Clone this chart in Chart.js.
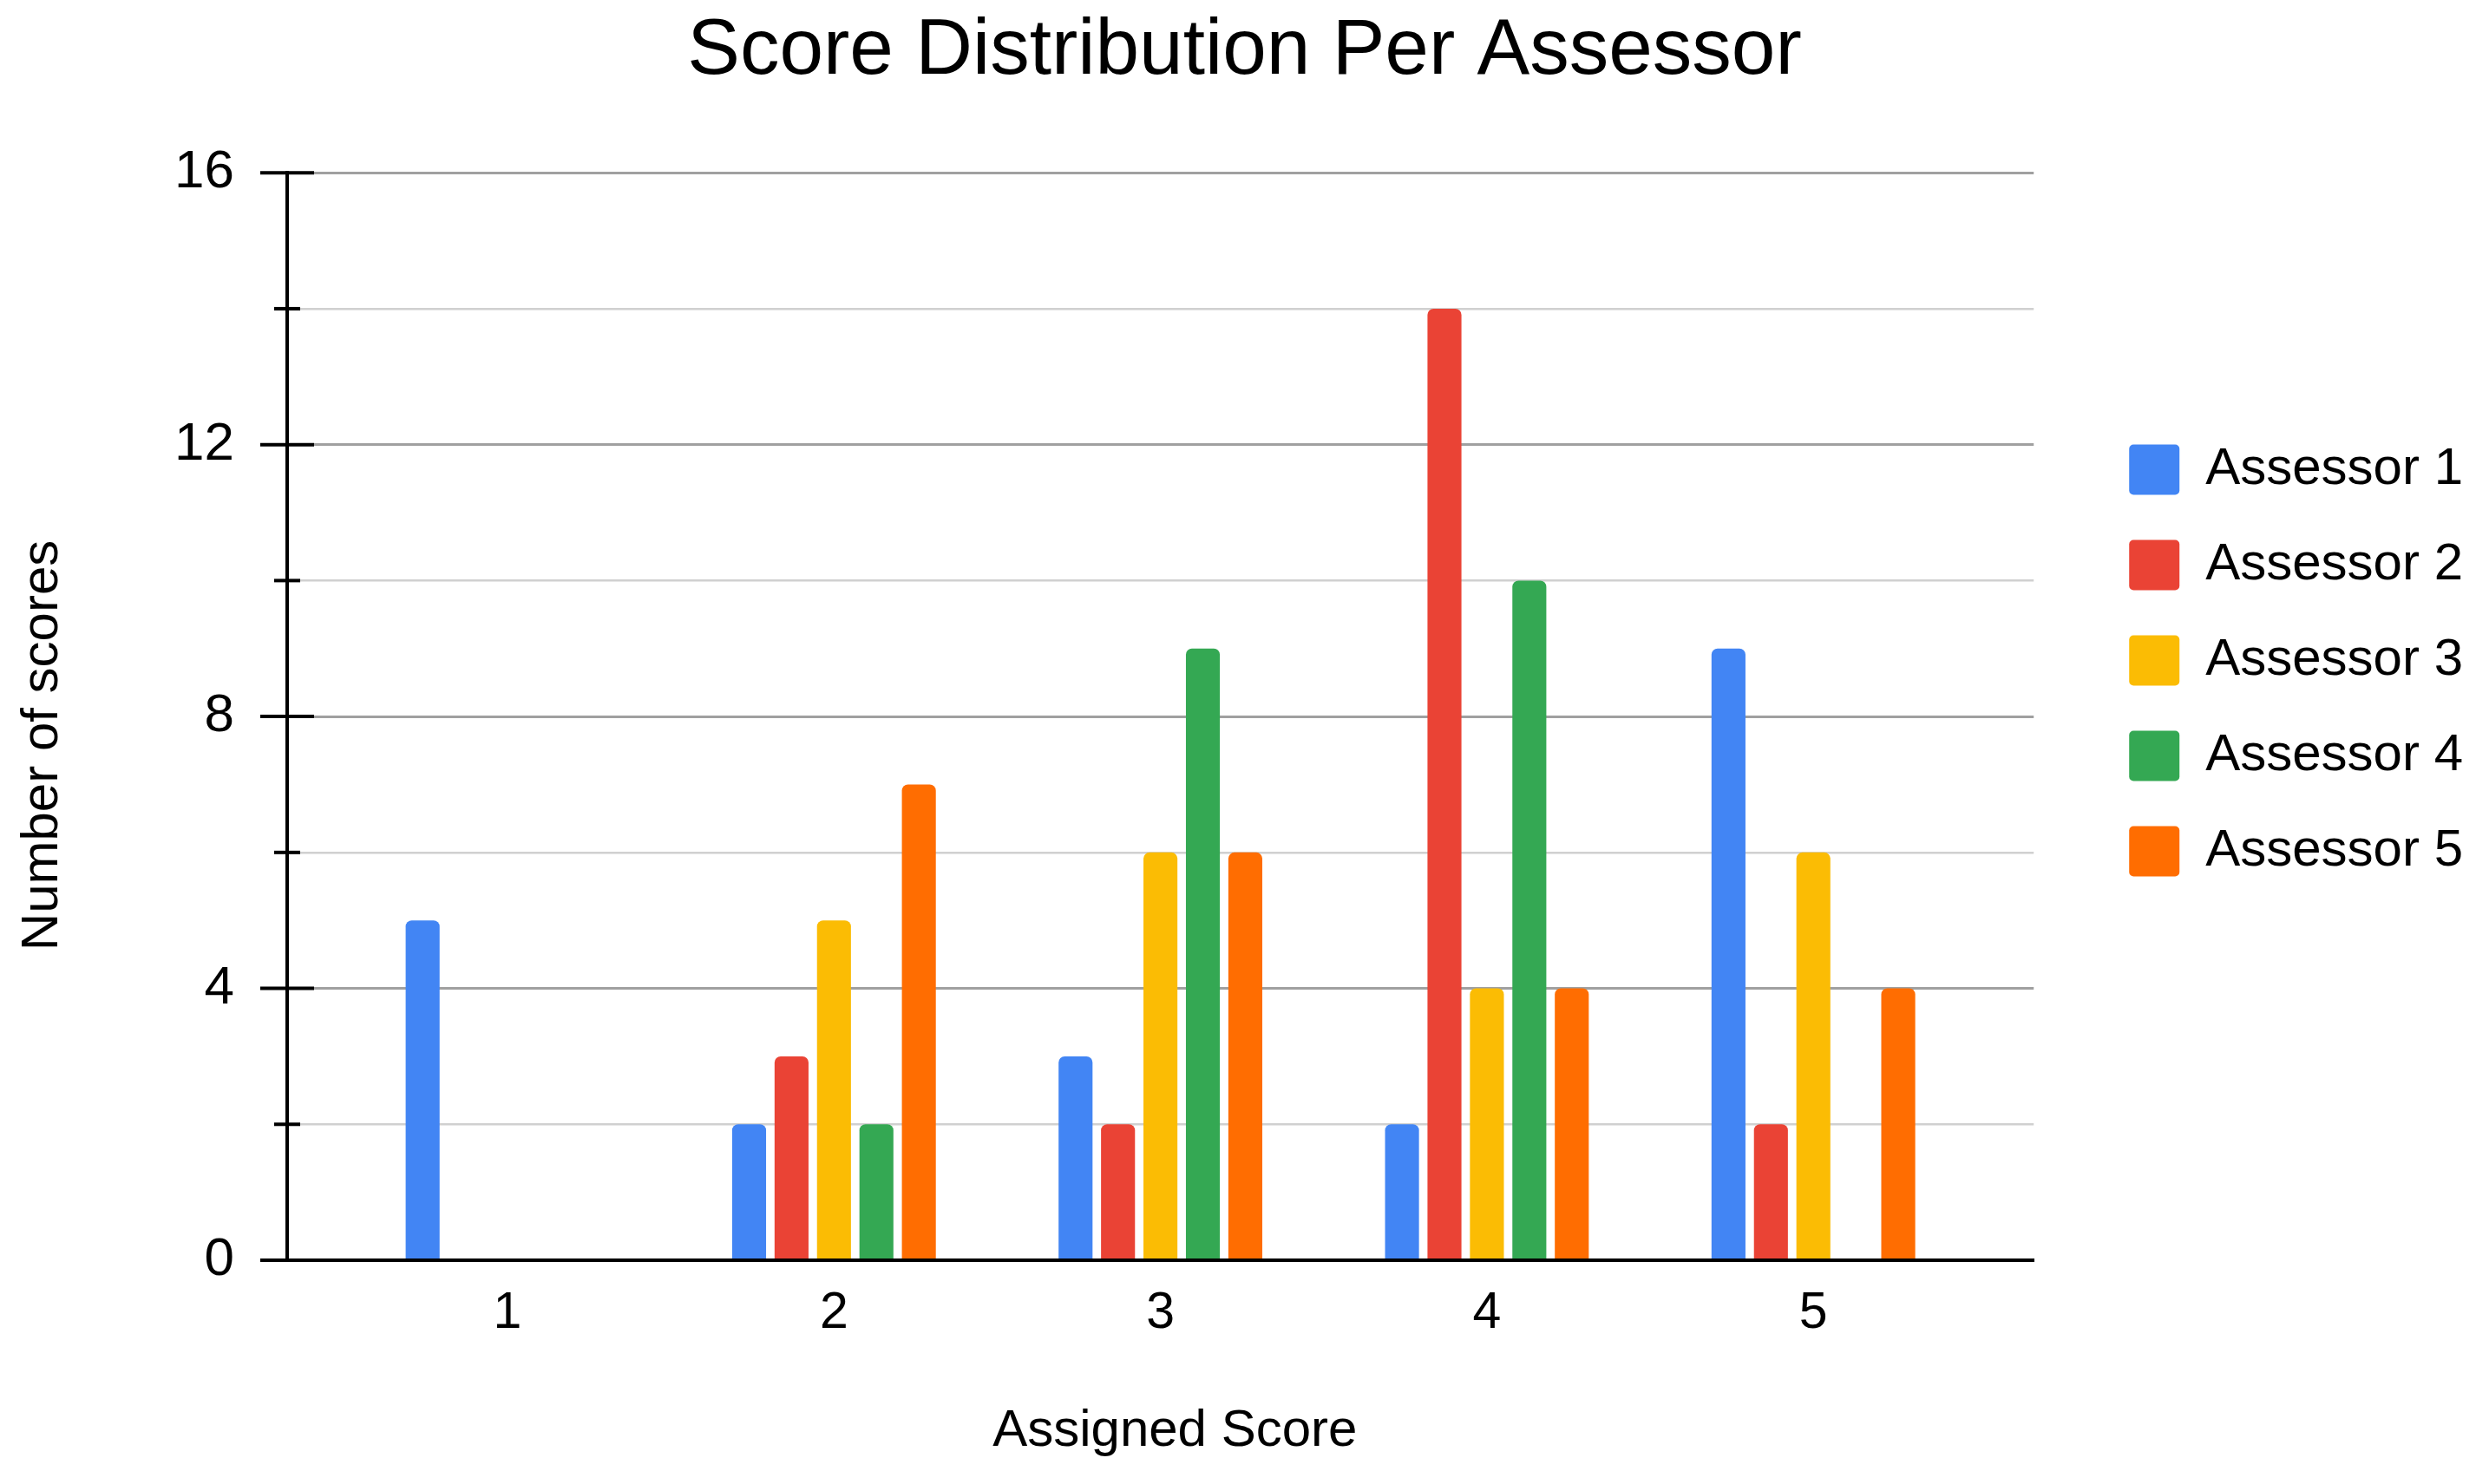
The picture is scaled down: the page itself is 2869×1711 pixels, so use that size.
<!DOCTYPE html>
<html lang="en">
<head>
<meta charset="utf-8">
<title>Score Distribution Per Assessor</title>
<script src="https://cdn.jsdelivr.net/npm/chart.js@4.4.1/dist/chart.umd.min.js"></script>
<style>
	html, body { margin: 0; padding: 0; background: #fff; }
	#chart__bar--scores { display: block; width: 2869px; height: 1711px; }
</style>
</head>
<body>
<canvas id="chart__bar--scores" width="2869" height="1711"></canvas>
<script>
// Chart data
const scoreLabels = [1, 2, 3, 4, 5];
const assessorNames = ["Assessor 1", "Assessor 2", "Assessor 3", "Assessor 4", "Assessor 5"];
const assessor1 = [5, 2, 3, 2, 9];
const assessor2 = [0, 3, 2, 14, 2];
const assessor3 = [0, 5, 6, 4, 6];
const assessor4 = [0, 2, 9, 10, 0];
const assessor5 = [0, 7, 6, 4, 4];
const assessorColors = ["#4285f4", "#ea4335", "#fbbc04", "#34a853", "#ff6d01"];
const yTicks = [0, 2, 4, 6, 8, 10, 12, 14, 16];
const yLabelStep = 4;

const FONT = "'Liberation Sans', Arial, sans-serif";
const TEXT_COLOR = "#000";
const NBSP = "\u00A0";

document.addEventListener("DOMContentLoaded", () => {
	initChartScores();
});

// Black tick marks across the y axis, long for labelled values, short otherwise
const axisTicksPlugin = () => ({
	id: "axisTicks",
	afterDatasetsDraw: (chart) => {
		const yScale = chart.scales.y;
		const ctx = chart.ctx;
		const axisX = chart.chartArea.left;
		ctx.save();
		ctx.strokeStyle = TEXT_COLOR;
		ctx.lineWidth = 4;
		yScale.ticks.forEach((tick) => {
			const py = yScale.getPixelForValue(tick.value);
			const half = tick.value % yLabelStep === 0 ? 31 : 15;
			ctx.beginPath();
			ctx.moveTo(axisX - half, py);
			ctx.lineTo(axisX + half, py);
			ctx.stroke();
		});
		ctx.restore();
	},
});

// Keep the title centred on the page and move the legend block off the plot edge
const blockNudgePlugin = (legendDx, legendDy) => ({
	id: "blockNudge",
	afterLayout: (chart) => {
		const title = chart.titleBlock;
		if (title) {
			const shift = chart.width / 2 - (title.left + title.right) / 2;
			title.left += shift;
			title.right += shift;
		}
		const legend = chart.legend;
		if (legend) {
			legend.left += legendDx;
			legend.right += legendDx;
			legend.top += legendDy;
			legend.bottom += legendDy;
		}
	},
});

const getScoresData = () => ({
	labels: scoreLabels,
	datasets: [assessor1, assessor2, assessor3, assessor4, assessor5].map((values, i) => ({
		label: assessorNames[i],
		data: values,
		backgroundColor: assessorColors[i],
		borderWidth: 0,
		borderRadius: { topLeft: 7, topRight: 7, bottomLeft: 0, bottomRight: 0 },
		borderSkipped: "start",
		categoryPercentage: 0.65,
		barPercentage: 0.8,
	})),
});

const getScoresOptions = () => ({
	responsive: false,
	devicePixelRatio: 1,
	animation: false,
	events: [],
	layout: { padding: { top: 0, left: 0, bottom: 0, right: 80 } },
	plugins: {
		title: {
			display: true,
			text: "Score Distribution Per Assessor",
			color: TEXT_COLOR,
			font: { family: FONT, size: 91, weight: "normal" },
			padding: { top: 5, bottom: 85 },
		},
		legend: {
			display: true,
			position: "right",
			labels: {
				color: TEXT_COLOR,
				font: { family: FONT, size: 60 },
				boxWidth: 58,
				boxHeight: 58,
				padding: 50,
				useBorderRadius: true,
				borderRadius: 5,
			},
		},
		tooltip: { enabled: false },
	},
	scales: {
		x: {
			type: "linear",
			min: 0.325,
			max: 5.675,
			offset: false,
			afterFit: (scale) => {
				scale.height = 258;
			},
			ticks: {
				stepSize: 1,
				includeBounds: false,
				maxRotation: 0,
				padding: 26,
				color: TEXT_COLOR,
				font: { family: FONT, size: 59 },
			},
			grid: { display: false, drawTicks: false },
			border: { display: true, color: TEXT_COLOR, width: 4, z: 1 },
			title: {
				display: true,
				// leading spaces push the centred title a bit to the right, as in the original
				text: NBSP.repeat(2) + "Assigned Score",
				color: TEXT_COLOR,
				font: { family: FONT, size: 60 },
				padding: { top: 0, bottom: 25 },
			},
		},
		y: {
			min: yTicks[0],
			max: yTicks[yTicks.length - 1],
			afterFit: (scale) => {
				scale.width = 331;
			},
			afterBuildTicks: (scale) => {
				scale.ticks = yTicks.map((value) => ({ value }));
			},
			ticks: {
				padding: 61,
				color: TEXT_COLOR,
				font: { family: FONT, size: 62 },
				callback: (value) => (value % yLabelStep === 0 ? String(value) : ""),
			},
			grid: {
				drawTicks: false,
				lineWidth: (ctx) => (ctx.tick && ctx.tick.value % yLabelStep === 0 ? 3 : 2.5),
				color: (ctx) => (ctx.tick && ctx.tick.value % yLabelStep === 0 ? "#a0a0a0" : "#d0d0d0"),
			},
			border: { display: true, color: TEXT_COLOR, width: 4, z: 1 },
			title: {
				display: true,
				// trailing spaces lower the rotated title to sit where the original has it
				text: "Number of scores" + NBSP.repeat(4),
				color: TEXT_COLOR,
				font: { family: FONT, size: 60 },
				padding: { top: 13, bottom: 0 },
			},
		},
	},
});

const initChartScores = () => {
	const ctx = document.getElementById("chart__bar--scores");
	if (!ctx) return;
	// eslint-disable-next-line no-undef
	new Chart(ctx, {
		type: "bar",
		data: getScoresData(),
		options: getScoresOptions(),
		plugins: [axisTicksPlugin(), blockNudgePlugin(60, -94)],
	});
};
</script>
</body>
</html>
